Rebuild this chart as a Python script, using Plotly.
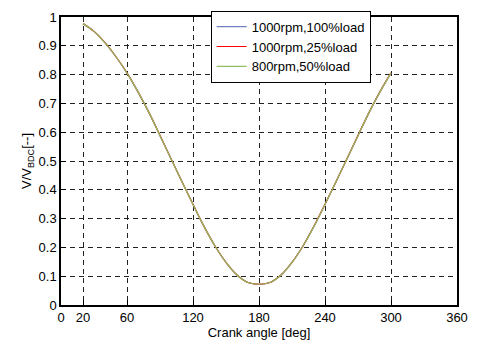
import plotly.graph_objects as go

crank_angle = [20, 30, 40, 50, 60, 70, 80, 90, 100, 110, 120, 130, 140, 150, 160,
               170, 180, 190, 200, 210, 220, 230, 240, 250, 260, 270, 280, 290, 300]
v_1000_100 = [0.977, 0.950, 0.910, 0.862, 0.805, 0.740, 0.668, 0.588, 0.508, 0.428,
              0.349, 0.273, 0.205, 0.148, 0.104, 0.078, 0.072, 0.078, 0.104, 0.148,
              0.205, 0.273, 0.349, 0.428, 0.508, 0.588, 0.668, 0.740, 0.805]
v_1000_25 = [0.977, 0.950, 0.911, 0.862, 0.806, 0.740, 0.668, 0.589, 0.508, 0.428,
             0.350, 0.273, 0.205, 0.148, 0.104, 0.078, 0.072, 0.078, 0.104, 0.148,
             0.205, 0.274, 0.350, 0.428, 0.508, 0.589, 0.668, 0.741, 0.806]
v_800_50 = [0.977, 0.950, 0.910, 0.862, 0.805, 0.740, 0.668, 0.588, 0.508, 0.428,
            0.349, 0.273, 0.205, 0.148, 0.104, 0.078, 0.072, 0.078, 0.104, 0.148,
            0.205, 0.273, 0.349, 0.428, 0.508, 0.588, 0.668, 0.740, 0.805]

x_ticks = [0, 20, 60, 120, 180, 240, 300, 360]
y_ticks = [0, 0.1, 0.2, 0.3, 0.4, 0.5, 0.6, 0.7, 0.8, 0.9, 1]
y_labels = ["0", "0.1", "0.2", "0.3", "0.4", "0.5", "0.6", "0.7", "0.8", "0.9", "1"]

series = [
    ("1000rpm,100%load", v_1000_100, "#6f7fbf"),
    ("1000rpm,25%load", v_1000_25, "#ff0000"),
    ("800rpm,50%load", v_800_50, "#8fbf5f"),
]

fig = go.Figure()
for name, vals, color in series:
    fig.add_trace(go.Scatter(x=crank_angle, y=vals, mode="lines", name=name,
                             line=dict(color=color, width=1.2, shape="spline")))

font = dict(family="Liberation Sans, Arial, sans-serif", size=13, color="black")

fig.update_layout(
    width=478, height=349,
    margin=dict(l=61, r=12, t=10, b=44),
    paper_bgcolor="white", plot_bgcolor="white",
    font=font,
    legend=dict(x=0.782, y=1.022, xanchor="right", yanchor="top",
                bgcolor="white", bordercolor="black", borderwidth=1,
                font=dict(family="Liberation Sans, Arial, sans-serif", size=13),
                tracegroupgap=0, itemwidth=30),
)
fig.update_xaxes(
    range=[0, 360], tickvals=x_ticks, ticktext=[str(t) for t in x_ticks],
    showline=True, linecolor="black", linewidth=1.5, mirror=True,
    ticks="inside", ticklen=5, tickcolor="black",
    showgrid=True, gridcolor="#222222", gridwidth=1, griddash="5px,4px",
    zeroline=False,
    title=dict(text="Crank angle [deg]", standoff=3, font=font),
)
fig.update_yaxes(
    range=[0, 1], tickvals=y_ticks, ticktext=y_labels,
    showline=True, linecolor="black", linewidth=1.5, mirror=True,
    ticks="inside", ticklen=5, tickcolor="black",
    showgrid=True, gridcolor="#222222", gridwidth=1, griddash="5px,4px",
    zeroline=False,
    title=dict(text="V/V<sub>BDC</sub>[--]", standoff=4, font=font),
)

fig.write_html("out.html")
